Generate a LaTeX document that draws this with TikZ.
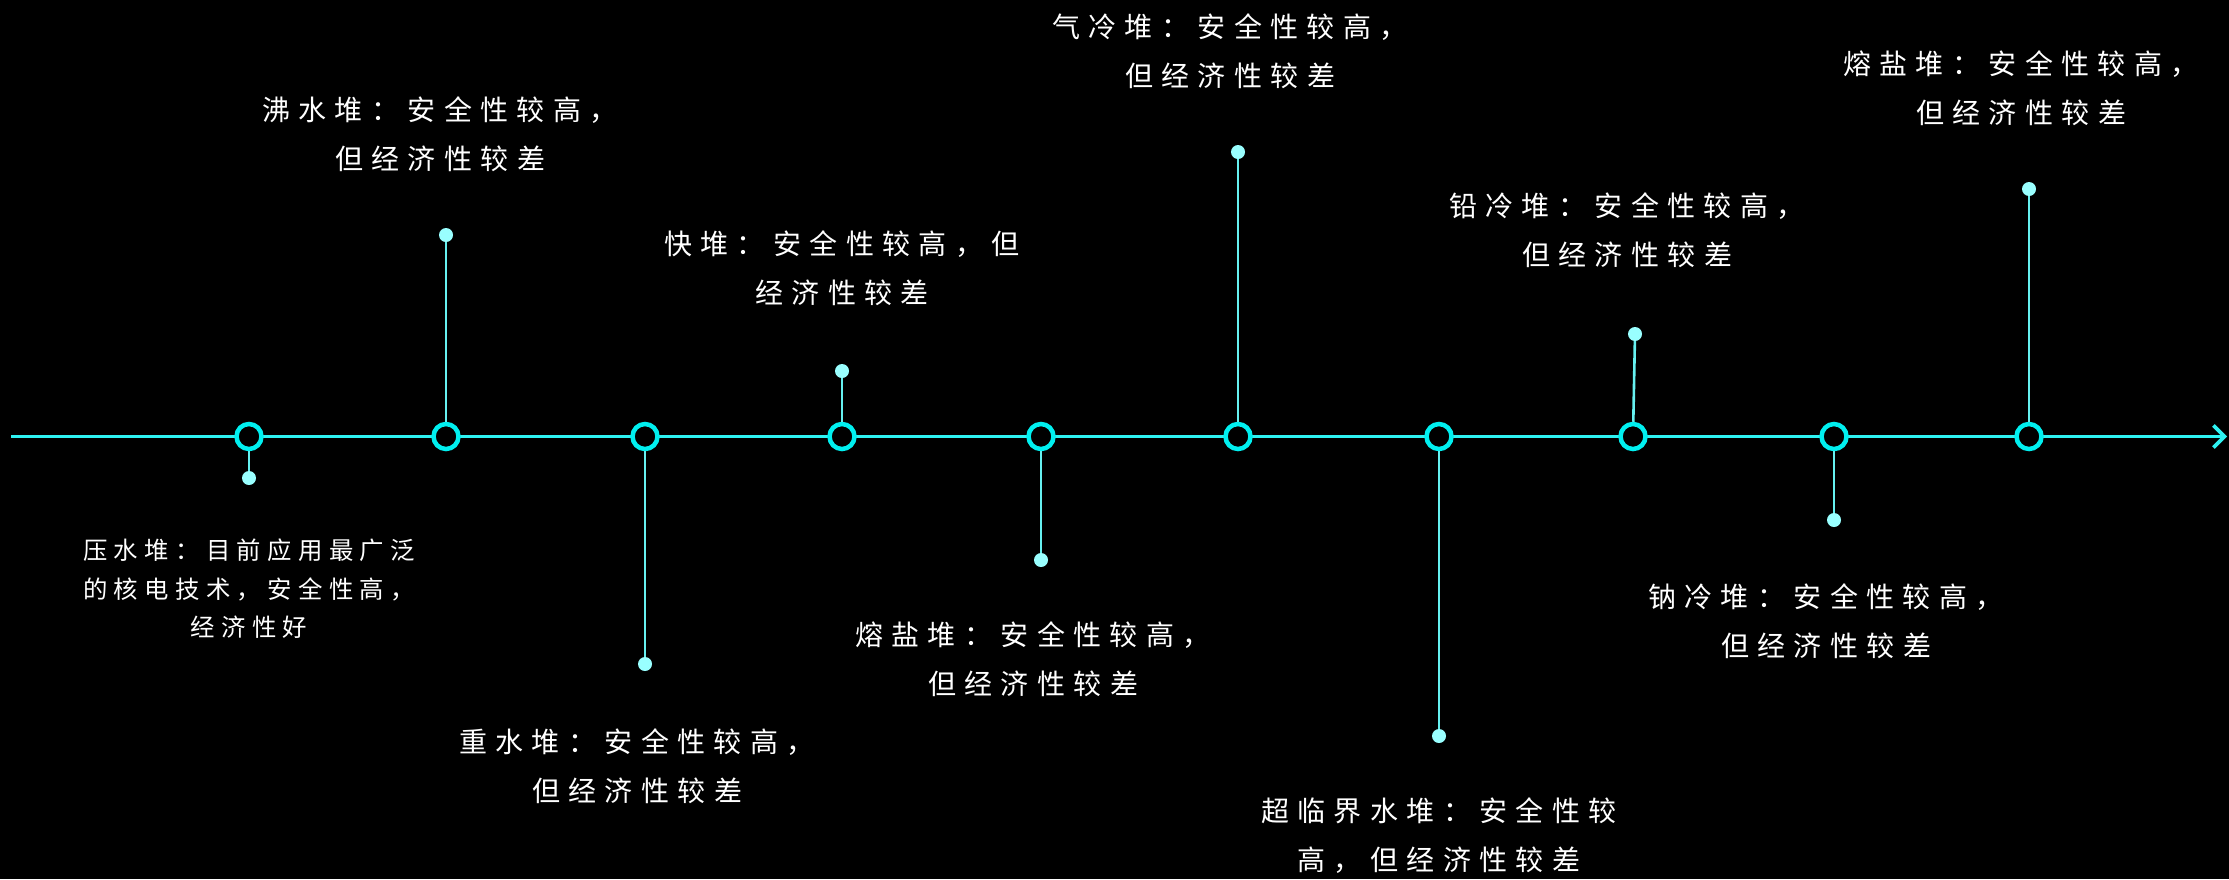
\documentclass[tikz,border=0pt]{standalone}
\usepackage{fontspec}
\newfontfamily\cjk[LetterSpace=30]{Noto Sans CJK SC}
\newfontfamily\cjksmall[LetterSpace=26]{Noto Sans CJK SC}
\usetikzlibrary{arrows.meta}
\definecolor{axiscol}{HTML}{2EF2F2}
\definecolor{ringcol}{HTML}{00F0F0}
\definecolor{stemcol}{HTML}{66F0F0}
\definecolor{dotcol}{HTML}{99FFFF}
\tikzset{
  ring/.style={circle, draw=ringcol, line width=4.5pt, fill=black, minimum size=25pt, inner sep=0pt},
  pin/.style={circle, fill=dotcol, minimum size=14pt, inner sep=0pt},
  stem/.style={draw=stemcol, line width=2.6pt},
  lbl/.style={text=white, align=center, inner sep=0pt, font=\cjk\fontsize{28}{49}\selectfont},
  lblsmall/.style={text=white, align=center, inner sep=0pt, font=\cjksmall\fontsize{24.4}{38.5}\selectfont}
}
\begin{document}
\begin{tikzpicture}[x=1pt,y=-1pt]
\fill[black] (0,0) rectangle (2229,879);
\useasboundingbox (0,0) rectangle (2229,879);
\coordinate (s) at (11,436.5);
\coordinate (e) at (2227,436.5);
\draw[axiscol, line width=3.6pt, -{Straight Barb[length=11pt,width=22pt,line width=3.6pt]}] (s) -- (e);
% circles
\foreach \i/\x in {1/249,2/446,3/645,4/842,5/1041,6/1238,7/1439,8/1633,9/1834,10/2029}{
  \node[ring] (c\i) at (\x,436.5) {};
}
% dots
\node[pin] (d1) at (249,478) {};
\node[pin] (d2) at (446,235) {};
\node[pin] (d3) at (645,664) {};
\node[pin] (d4) at (842,371) {};
\node[pin] (d5) at (1041,560) {};
\node[pin] (d6) at (1238,152) {};
\node[pin] (d7) at (1439,736) {};
\node[pin] (d8) at (1635,334) {};
\node[pin] (d9) at (1834,520) {};
\node[pin] (d10) at (2029,189) {};
\foreach \i in {1,...,10}{
  \draw[stem] (c\i) -- (d\i);
}
% labels
\node[lblsmall] (t1) at (249,589) {压水堆：目前应用最广泛\\的核电技术，安全性高，\\经济性好};
\node[lbl] (t2) at (440,134) {沸水堆：安全性较高，\\但经济性较差};
\node[lbl] (t3) at (842,268) {快堆：安全性较高，但\\经济性较差};
\node[lbl] (t4) at (637,766) {重水堆：安全性较高，\\但经济性较差};
\node[lbl] (t5) at (1033,659) {熔盐堆：安全性较高，\\但经济性较差};
\node[lbl] (t6) at (1230,51) {气冷堆：安全性较高，\\但经济性较差};
\node[lbl] (t7) at (1439,836) {超临界水堆：安全性较\\高，但经济性较差};
\node[lbl] (t8) at (1627,230) {铅冷堆：安全性较高，\\但经济性较差};
\node[lbl] (t9) at (1826,621) {钠冷堆：安全性较高，\\但经济性较差};
\node[lbl] (t10) at (2021,88) {熔盐堆：安全性较高，\\但经济性较差};
\end{tikzpicture}
\end{document}
